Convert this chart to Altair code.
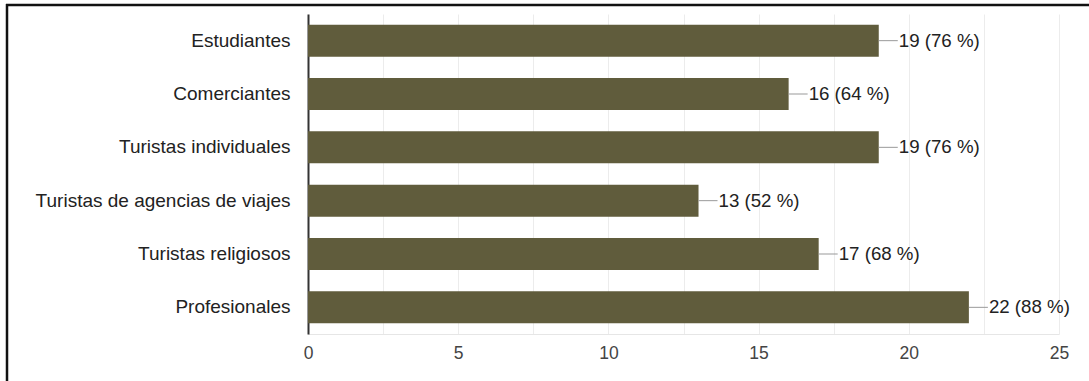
import altair as alt
import pandas as pd

# Survey responses per visitor group
groups = [
    "Estudiantes",
    "Comerciantes",
    "Turistas individuales",
    "Turistas de agencias de viajes",
    "Turistas religiosos",
    "Profesionales",
]
counts = [19, 16, 19, 13, 17, 22]
percents = [76, 64, 76, 52, 68, 88]

df = pd.DataFrame({"group": groups, "count": counts, "pct": percents})
df["label"] = [f"{c} ({p} %)" for c, p in zip(counts, percents)]

grid_values = [i * 2.5 for i in range(11)]
FONT = "Liberation Sans"
BAR = "#605c3c"

x_enc = alt.X(
    "count:Q",
    scale=alt.Scale(domain=[0, 25], nice=False),
    axis=alt.Axis(
        values=grid_values,
        labelExpr="datum.value % 5 == 0 ? datum.label : ''",
        title=None,
        ticks=False,
        grid=True,
        gridColor="#ececec",
        gridWidth=1,
        domainColor="#e6e6e6",
        domainWidth=1,
        labelFont=FONT,
        labelFontSize=17.5,
        labelColor="#444444",
        labelPadding=10,
        labelFlush=False,
    ),
)
y_enc = alt.Y(
    "group:N",
    sort=groups,
    scale=alt.Scale(paddingInner=0.4, paddingOuter=0.2),
    axis=alt.Axis(
        title=None,
        ticks=False,
        domainColor="#333333",
        domainWidth=2,
        labelFont=FONT,
        labelFontSize=19,
        labelColor="#222222",
        labelPadding=18,
        labelLimit=400,
    ),
)

base = alt.Chart(df)

bars = base.mark_bar(color=BAR).encode(x=x_enc, y=y_enc)

leaders = base.mark_rule(color="#999999", strokeWidth=1, x2Offset=19).encode(
    x="count:Q", x2="count:Q", y=alt.Y("group:N", sort=groups)
)

labels = base.mark_text(
    align="left", baseline="middle", dx=20, font=FONT, fontSize=18.7, color="#222222"
).encode(x="count:Q", y=alt.Y("group:N", sort=groups), text="label:N")

# Frame lines along the left and top edges of the figure
frame_src = alt.Chart(alt.Data(values=[{}]))
left_edge = frame_src.mark_rule(color="#111111", strokeWidth=2.5).encode(
    x=alt.value(-301), y=alt.value(-10), y2=alt.value(380)
)
top_edge = frame_src.mark_rule(color="#111111", strokeWidth=2.5).encode(
    x=alt.value(-302), x2=alt.value(800), y=alt.value(-9)
)

chart = (
    alt.layer(bars, leaders, labels, left_edge, top_edge)
    .properties(
        width=751,
        height=320,
        autosize=alt.AutoSizeParams(type="none"),
        padding={"left": 308, "top": 14, "right": 30, "bottom": 47},
        background="white",
    )
    .configure_view(stroke=None)
)

chart.save("out.html", embed_options={"renderer": "svg", "actions": False})
